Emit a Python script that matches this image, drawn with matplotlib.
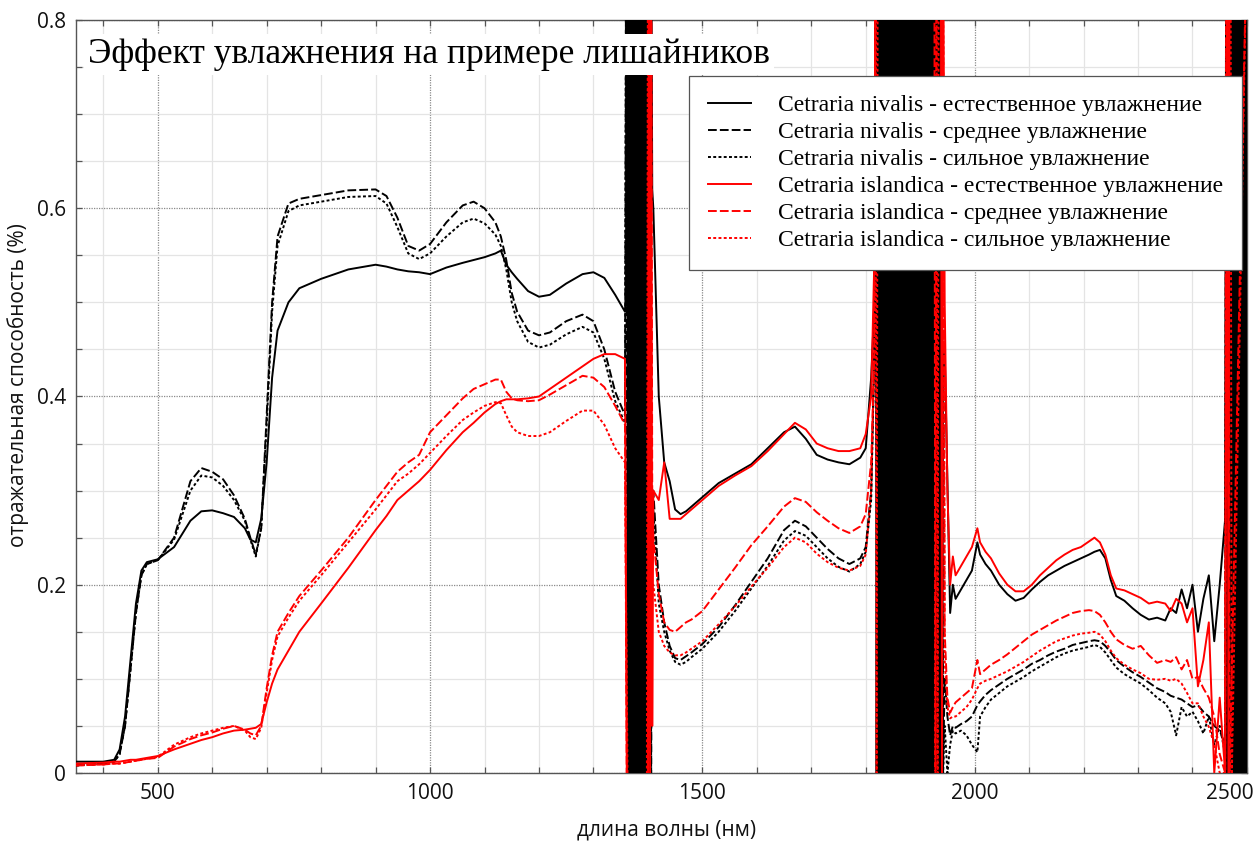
import numpy as np
import matplotlib
matplotlib.use('Agg')
import matplotlib.pyplot as plt
from matplotlib import ticker
from matplotlib.transforms import ScaledTranslation

# ---------------- data ----------------
labels = [
    "Cetraria nivalis - естественное увлажнение",
    "Cetraria nivalis - среднее увлажнение",
    "Cetraria nivalis - сильное увлажнение",
    "Cetraria islandica - естественное увлажнение",
    "Cetraria islandica - среднее увлажнение",
    "Cetraria islandica - сильное увлажнение",
]

# segment A: 350 - 1358 nm
wl_A = [350, 400, 420, 430, 440, 450, 460, 470, 480, 500,
        530, 560, 580, 600, 620, 640, 660, 670, 680, 690,
        700, 710, 720, 740, 760, 800, 850, 900, 920, 940,
        960, 980, 1000, 1030, 1060, 1080, 1100, 1120, 1130, 1140,
        1150, 1160, 1180, 1200, 1220, 1250, 1280, 1300, 1320, 1340, 1358]
nv_nat_A = [0.012, 0.012, 0.014, 0.025, 0.06, 0.12, 0.18, 0.215, 0.224, 0.227,
            0.24, 0.268, 0.278, 0.279, 0.276, 0.272, 0.26, 0.248, 0.245, 0.27,
            0.33, 0.42, 0.47, 0.50, 0.515, 0.525, 0.535, 0.54, 0.538, 0.535,
            0.533, 0.532, 0.53, 0.537, 0.542, 0.545, 0.548, 0.552, 0.555, 0.54,
            0.532, 0.525, 0.512, 0.506, 0.508, 0.52, 0.53, 0.532, 0.526, 0.508, 0.49]
nv_med_A = [0.008, 0.01, 0.012, 0.02, 0.05, 0.11, 0.17, 0.21, 0.222, 0.226,
            0.25, 0.31, 0.324, 0.32, 0.312, 0.295, 0.27, 0.25, 0.232, 0.26,
            0.38, 0.50, 0.57, 0.605, 0.61, 0.614, 0.619, 0.62, 0.613, 0.59,
            0.56, 0.555, 0.562, 0.585, 0.603, 0.607, 0.60, 0.585, 0.57, 0.545,
            0.51, 0.49, 0.47, 0.465, 0.468, 0.48, 0.487, 0.48, 0.45, 0.405, 0.38]
nv_str_A = [0.008, 0.01, 0.012, 0.02, 0.05, 0.11, 0.17, 0.21, 0.222, 0.226,
            0.248, 0.30, 0.316, 0.314, 0.305, 0.29, 0.268, 0.248, 0.23, 0.26,
            0.37, 0.49, 0.56, 0.597, 0.603, 0.607, 0.612, 0.613, 0.605, 0.58,
            0.552, 0.546, 0.552, 0.57, 0.585, 0.589, 0.584, 0.572, 0.56, 0.535,
            0.50, 0.48, 0.458, 0.452, 0.455, 0.466, 0.474, 0.468, 0.44, 0.395, 0.372]
is_nat_A = [0.01, 0.011, 0.012, 0.012, 0.013, 0.014, 0.014, 0.015, 0.016, 0.018,
            0.025, 0.031, 0.035, 0.038, 0.042, 0.045, 0.046, 0.047, 0.048, 0.052,
            0.075, 0.095, 0.11, 0.13, 0.15, 0.18, 0.218, 0.258, 0.273, 0.29,
            0.30, 0.31, 0.322, 0.343, 0.362, 0.372, 0.383, 0.392, 0.395, 0.397,
            0.397, 0.397, 0.398, 0.40, 0.408, 0.42, 0.432, 0.44, 0.445, 0.445, 0.44]
is_med_A = [0.008, 0.009, 0.01, 0.01, 0.011, 0.012, 0.013, 0.014, 0.015, 0.016,
            0.028, 0.036, 0.04, 0.043, 0.047, 0.05, 0.046, 0.042, 0.04, 0.05,
            0.09, 0.125, 0.15, 0.17, 0.188, 0.215, 0.25, 0.29, 0.305, 0.32,
            0.33, 0.338, 0.362, 0.38, 0.398, 0.408, 0.413, 0.418, 0.418, 0.405,
            0.398, 0.396, 0.395, 0.396, 0.402, 0.412, 0.422, 0.42, 0.41, 0.39, 0.37]
is_str_A = [0.008, 0.009, 0.01, 0.01, 0.011, 0.012, 0.013, 0.014, 0.015, 0.017,
            0.03, 0.038, 0.042, 0.045, 0.048, 0.05, 0.045, 0.038, 0.036, 0.048,
            0.085, 0.12, 0.145, 0.165, 0.183, 0.21, 0.245, 0.28, 0.295, 0.31,
            0.318, 0.328, 0.34, 0.358, 0.375, 0.383, 0.39, 0.394, 0.393, 0.38,
            0.368, 0.362, 0.358, 0.358, 0.362, 0.374, 0.385, 0.385, 0.37, 0.345, 0.33]

# segment B: 1410 - 1816 nm
wl_B = [1410, 1420, 1430, 1440, 1450, 1460, 1470, 1480, 1500, 1530,
        1560, 1590, 1620, 1650, 1670, 1690, 1710, 1730, 1750, 1770,
        1790, 1800, 1810, 1816]
nv_nat_B = [0.60, 0.40, 0.33, 0.31, 0.28, 0.275, 0.278, 0.283, 0.293, 0.308,
            0.318, 0.328, 0.345, 0.362, 0.368, 0.355, 0.338, 0.333, 0.33, 0.328,
            0.335, 0.345, 0.42, 0.50]
nv_med_B = [0.30, 0.20, 0.16, 0.135, 0.122, 0.12, 0.124, 0.128, 0.137, 0.155,
            0.178, 0.203, 0.228, 0.258, 0.268, 0.262, 0.25, 0.238, 0.228, 0.222,
            0.228, 0.24, 0.30, 0.45]
nv_str_B = [0.28, 0.18, 0.15, 0.13, 0.118, 0.115, 0.118, 0.123, 0.132, 0.15,
            0.172, 0.196, 0.22, 0.247, 0.257, 0.252, 0.24, 0.228, 0.219, 0.214,
            0.222, 0.235, 0.29, 0.45]
is_nat_B = [0.30, 0.29, 0.33, 0.27, 0.27, 0.27, 0.275, 0.28, 0.29, 0.305,
            0.316, 0.326, 0.342, 0.36, 0.372, 0.365, 0.35, 0.345, 0.342, 0.342,
            0.345, 0.36, 0.40, 0.55]
is_med_B = [0.25, 0.19, 0.16, 0.152, 0.15, 0.155, 0.16, 0.163, 0.172, 0.195,
            0.218, 0.242, 0.262, 0.283, 0.292, 0.288, 0.277, 0.268, 0.26, 0.255,
            0.262, 0.275, 0.33, 0.45]
is_str_B = [0.20, 0.15, 0.135, 0.128, 0.125, 0.125, 0.128, 0.132, 0.14, 0.158,
            0.177, 0.198, 0.218, 0.24, 0.25, 0.245, 0.233, 0.224, 0.218, 0.215,
            0.22, 0.232, 0.30, 0.45]

# segment C: 1945 - 2460 nm
wl_C = [1945, 1950, 1955, 1960, 1965, 1975, 1985, 1995, 2005, 2010,
        2020, 2030, 2045, 2060, 2075, 2090, 2105, 2120, 2135, 2150,
        2165, 2180, 2195, 2210, 2220, 2230, 2240, 2250, 2260, 2275,
        2290, 2305, 2320, 2335, 2350, 2360, 2370, 2380, 2390, 2400,
        2410, 2420, 2430, 2440, 2450, 2460]
nv_nat_C = [0.45, 0.31, 0.17, 0.20, 0.185, 0.195, 0.205, 0.215, 0.245, 0.232,
            0.222, 0.215, 0.20, 0.19, 0.183, 0.186, 0.195, 0.203, 0.21, 0.215,
            0.22, 0.224, 0.228, 0.232, 0.235, 0.237, 0.228, 0.205, 0.188, 0.183,
            0.175, 0.168, 0.163, 0.165, 0.162, 0.175, 0.17, 0.195, 0.175, 0.20,
            0.15, 0.185, 0.21, 0.14, 0.20, 0.27]
nv_med_C = [0.10, 0.06, 0.04, 0.05, 0.048, 0.052, 0.055, 0.06, 0.072, 0.076,
            0.083, 0.088, 0.094, 0.10, 0.105, 0.11, 0.116, 0.12, 0.125, 0.129,
            0.132, 0.136, 0.138, 0.14, 0.141, 0.14, 0.135, 0.128, 0.12, 0.113,
            0.107, 0.102, 0.096, 0.09, 0.086, 0.082, 0.08, 0.078, 0.074, 0.07,
            0.072, 0.065, 0.06, 0.05, 0.045, 0.03]
nv_str_C = [0.05, 0.0, 0.03, 0.045, 0.042, 0.045, 0.04, 0.03, 0.022, 0.06,
            0.07, 0.078, 0.085, 0.092, 0.097, 0.102, 0.108, 0.113, 0.118, 0.123,
            0.127, 0.13, 0.132, 0.134, 0.136, 0.134, 0.128, 0.12, 0.112, 0.105,
            0.10, 0.095, 0.088, 0.08, 0.074, 0.065, 0.04, 0.07, 0.06, 0.065,
            0.055, 0.042, 0.06, 0.03, 0.05, 0.02]
is_nat_C = [0.50, 0.30, 0.20, 0.23, 0.21, 0.22, 0.23, 0.24, 0.26, 0.245,
            0.235, 0.228, 0.212, 0.20, 0.193, 0.193, 0.20, 0.21, 0.218, 0.226,
            0.232, 0.237, 0.24, 0.246, 0.25, 0.245, 0.232, 0.21, 0.196, 0.194,
            0.19, 0.186, 0.18, 0.182, 0.18, 0.172, 0.185, 0.18, 0.16, 0.175,
            0.092, 0.12, 0.16, 0.0, 0.08, 0.0]
is_med_C = [0.15, 0.08, 0.064, 0.07, 0.075, 0.08, 0.085, 0.09, 0.12, 0.105,
            0.11, 0.115, 0.12, 0.126, 0.133, 0.14, 0.147, 0.152, 0.157, 0.162,
            0.166, 0.17, 0.172, 0.173, 0.172, 0.168, 0.16, 0.15, 0.142, 0.136,
            0.132, 0.135, 0.125, 0.117, 0.12, 0.118, 0.123, 0.11, 0.12, 0.10,
            0.102, 0.09, 0.08, 0.06, 0.02, 0.0]
is_str_C = [0.12, 0.07, 0.058, 0.06, 0.06, 0.065, 0.07, 0.078, 0.09, 0.095,
            0.098, 0.10, 0.104, 0.108, 0.113, 0.118, 0.124, 0.13, 0.135, 0.14,
            0.143, 0.146, 0.148, 0.149, 0.15, 0.147, 0.14, 0.13, 0.122, 0.115,
            0.11, 0.106, 0.10, 0.099, 0.10, 0.098, 0.10, 0.095, 0.085, 0.074,
            0.074, 0.06, 0.049, 0.03, 0.0, 0.0]

# water absorption bands (noisy, saturated readings)
nv_nat_b1_wl = list(range(1360, 1410, 2))
nv_nat_b1 = [0.50, 0.95, -0.10, 0.96, -0.12, 0.95, -0.09, 0.96, -0.10, 0.94,
             -0.11, 0.96, -0.10, 0.95, -0.12, 0.94, -0.10, 0.96, -0.09, 0.95,
             -0.10, 0.94, -0.11, 0.95, 0.62]
nv_nat_b2_wl = list(range(1818, 1944, 2))
nv_nat_b2 = [0.95, -0.10, 0.96, -0.11, 0.94, -0.09, 0.96, -0.10, 0.95, -0.12,
             0.96, -0.10, 0.95, -0.11, 0.96, -0.10, 0.94, -0.09, 0.96, -0.10,
             0.95, -0.12, 0.96, -0.10, 0.95, -0.11, 0.96, -0.10, 0.94, -0.09,
             0.96, -0.10, 0.95, -0.12, 0.96, -0.10, 0.95, -0.11, 0.96, -0.10,
             0.94, -0.09, 0.96, -0.10, 0.95, -0.12, 0.96, -0.10, 0.95, -0.11,
             0.96, -0.10, 0.94, -0.09, 0.96, -0.10, 0.95, -0.12, 0.96, -0.10,
             0.95, -0.11, 0.45]
nv_nat_b3_wl = list(range(2462, 2502, 2))
nv_nat_b3 = [0.95, -0.10, 0.96, -0.11, 0.95, -0.09, 0.96, -0.10, 0.94, -0.12,
             0.96, -0.10, 0.95, -0.11, 0.96, -0.10, 0.95, -0.09, 0.96, -0.10]

nv_med_b1_wl = [1360, 1362, 1364, 1404, 1406, 1408]
nv_med_b1 = [0.9, 0.0, 0.9, 0.9, 0.0, 0.3]
nv_med_b2_wl = [1818, 1940, 1942]
nv_med_b2 = [0.9, 0.9, 0.0]
nv_med_b3_wl = [2462, 2500]
nv_med_b3 = [0.9, 0.9]

nv_str_b1_wl = [1360, 1366, 1368, 1402, 1404, 1408]
nv_str_b1 = [0.9, 0.9, 0.0, 0.9, 0.0, 0.28]
nv_str_b2_wl = [1818, 1938, 1942]
nv_str_b2 = [0.9, 0.9, 0.0]
nv_str_b3_wl = [2462, 2500]
nv_str_b3 = [0.9, 0.9]

is_nat_b1_wl = [1362, 1400, 1402, 1404, 1406, 1408]
is_nat_b1 = [-0.1, -0.1, 0.9, 0.0, 0.9, 0.05]
is_nat_b2_wl = [1818, 1938, 1940, 1942]
is_nat_b2 = [0.9, 0.9, -0.01, 0.9]
is_nat_b3_wl = [2464, 2466, 2468, 2500]
is_nat_b3 = [0.9, -0.01, 0.9, 0.9]

is_med_b1_wl = [1362, 1400, 1402, 1404, 1406, 1408]
is_med_b1 = [-0.1, -0.1, 0.9, 0.05, 0.9, 0.3]
is_med_b2_wl = [1818, 1926, 1928, 1930, 1942]
is_med_b2 = [0.9, 0.9, -0.01, 0.9, 0.9]
is_med_b3_wl = [2462, 2466, 2468, 2500]
is_med_b3 = [0.9, 0.9, -0.01, 0.9]

is_str_b1_wl = [1364, 1398, 1400, 1402, 1408]
is_str_b1 = [-0.1, -0.1, 0.9, 0.02, 0.2]
is_str_b2_wl = [1818, 1820, 1822, 1930, 1932, 1934, 1942]
is_str_b2 = [0.9, 0.0, 0.9, 0.9, 0.0, 0.9, 0.9]
is_str_b3_wl = [2462, 2470, 2472, 2500]
is_str_b3 = [0.9, 0.9, -0.01, 0.9]

title_text = "Эффект увлажнения на примере лишайников"
xlabel_text = "длина волны (нм)"
ylabel_text = "отражательная способность (%)"
x_ticks = [500, 1000, 1500, 2000, 2500]
y_ticks = [0, 0.2, 0.4, 0.6, 0.8]


def build(a, b1w, b1, b, b2w, b2, c, b3w, b3):
    x = list(wl_A) + list(b1w) + list(wl_B) + list(b2w) + list(wl_C) + list(b3w)
    y = list(a) + list(b1) + list(b) + list(b2) + list(c) + list(b3)
    return np.array(x, float), np.array(y, float)


series = [
    (build(nv_nat_A, nv_nat_b1_wl, nv_nat_b1, nv_nat_B, nv_nat_b2_wl, nv_nat_b2, nv_nat_C, nv_nat_b3_wl, nv_nat_b3), 'black', '-'),
    (build(nv_med_A, nv_med_b1_wl, nv_med_b1, nv_med_B, nv_med_b2_wl, nv_med_b2, nv_med_C, nv_med_b3_wl, nv_med_b3), 'black', (0, (4.5, 1.6))),
    (build(nv_str_A, nv_str_b1_wl, nv_str_b1, nv_str_B, nv_str_b2_wl, nv_str_b2, nv_str_C, nv_str_b3_wl, nv_str_b3), 'black', (0, (1.5, 1.2))),
    (build(is_nat_A, is_nat_b1_wl, is_nat_b1, is_nat_B, is_nat_b2_wl, is_nat_b2, is_nat_C, is_nat_b3_wl, is_nat_b3), '#ff0000', '-'),
    (build(is_med_A, is_med_b1_wl, is_med_b1, is_med_B, is_med_b2_wl, is_med_b2, is_med_C, is_med_b3_wl, is_med_b3), '#ff0000', (0, (4.5, 1.6))),
    (build(is_str_A, is_str_b1_wl, is_str_b1, is_str_B, is_str_b2_wl, is_str_b2, is_str_C, is_str_b3_wl, is_str_b3), '#ff0000', (0, (1.5, 1.2))),
]

# ---------------- figure ----------------
plt.rcParams['font.family'] = ['Open Sans', 'DejaVu Sans']
fig = plt.figure(figsize=(12.57, 8.41), dpi=100)
ax = fig.add_axes([0.0605, 0.0809, 0.9315, 0.8953])

handles = []
for ((x, y), col, ls), lab in zip(series, labels):
    h, = ax.plot(x, y, color=col, linestyle=ls, linewidth=1.4, label=lab, zorder=3)
    handles.append(h)

ax.set_xlim(350, 2500)
ax.set_ylim(0, 0.8)
ax.set_xticks(x_ticks)
ax.set_yticks(y_ticks)
ax.yaxis.set_major_formatter(ticker.FuncFormatter(lambda v, p: '%g' % v))
ax.xaxis.set_minor_locator(ticker.MultipleLocator(100))
ax.yaxis.set_minor_locator(ticker.MultipleLocator(0.05))
ax.set_axisbelow(True)
ax.grid(which='minor', linestyle='-', color='#e4e4e4', linewidth=0.9)
ax.grid(which='major', linestyle=(0, (1, 1)), color='#8a8a8a', linewidth=0.9)
ax.tick_params(which='both', direction='in', top=True, right=True, length=4,
               color='#555555', width=0.9)
ax.tick_params(which='major', labelsize=15, pad=7, labelcolor='#111111')
for s in ax.spines.values():
    s.set_color('#555555')
    s.set_linewidth(1.0)

# shift last x tick label inward
fig.canvas.draw()
lbls = ax.get_xticklabels()
lbls[-1].set_transform(lbls[-1].get_transform() + ScaledTranslation(-17 / 100, 0, fig.dpi_scale_trans))

ax.set_xlabel(xlabel_text, fontsize=15, color='#111111')
ax.xaxis.set_label_coords(0.504, -0.062)
ax.set_ylabel(ylabel_text, fontsize=15, color='#111111')
ax.yaxis.set_label_coords(-0.040, 0.515)

ax.text(0.0102, 0.943, title_text, transform=ax.transAxes, fontsize=25.5,
        family='Liberation Serif', va='baseline', ha='left', zorder=6,
        bbox=dict(facecolor='white', edgecolor='none', pad=3))

leg = ax.legend(handles=handles, loc='upper right', bbox_to_anchor=(0.9957, 0.9256),
                borderaxespad=0, prop={'family': 'Liberation Serif', 'size': 17},
                frameon=True, fancybox=False, framealpha=1, edgecolor='#555555',
                handlelength=1.8, handletextpad=1.15, labelspacing=0.23,
                borderpad=0.8)
leg.get_frame().set_linewidth(0.9)
leg.set_zorder(7)

fig.savefig('out.png', dpi=100)
